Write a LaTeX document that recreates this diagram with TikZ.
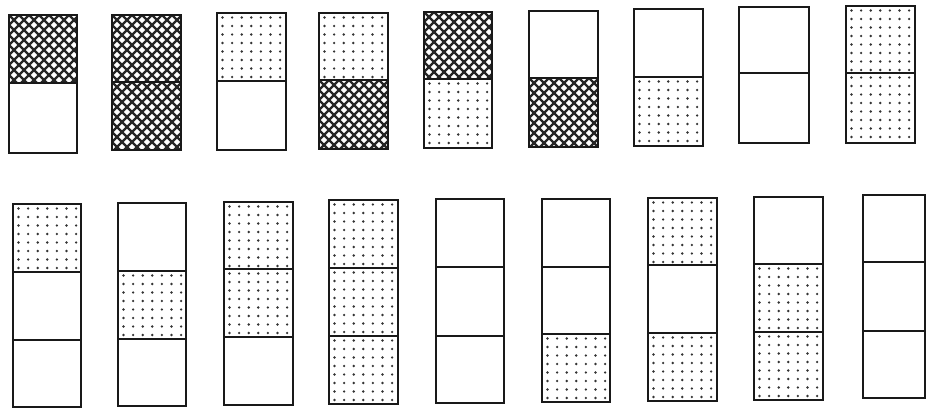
\documentclass[tikz,border=0pt]{standalone}
\tikzset{
  cellborder/.style={line width=2pt, draw=black!90},
  hatchline/.style={line width=1.7pt, draw=black!85},
  dotfill/.style={fill=black!80}
}
\newcommand\wcell[4]{\draw[cellborder] (#1,#2) rectangle (#3,#4);}
\newcommand\hcell[4]{%
  \begin{scope}
    \clip (#1,#2) rectangle (#3,#4);
    \foreach \k in {0,10,...,180}{
      \draw[hatchline] (#1+\k-90,#2) -- ++(90,90);
      \draw[hatchline] (#1+\k,#2) -- ++(-90,90);
    }
  \end{scope}
  \wcell{#1}{#2}{#3}{#4}}
\newcommand\dcell[4]{%
  \foreach \i in {0,...,6}{
    \foreach \j in {0,...,7}{
      \fill[dotfill] ({#1+5.5+\i*9.6},{#2+4.5+\j*8.5}) circle (1pt);
    }
  }
  \wcell{#1}{#2}{#3}{#4}}
\begin{document}
\begin{tikzpicture}[x=0.75pt,y=-0.75pt]
\useasboundingbox[fill=white] (0,0) rectangle (928,409);
% top row
\hcell{9}{15}{77}{83}   \wcell{9}{83}{77}{153}
\hcell{112}{15}{181}{82} \hcell{112}{82}{181}{150}
\dcell{217}{13}{286}{81} \wcell{217}{81}{286}{150}
\dcell{319}{13}{388}{80} \hcell{319}{80}{388}{149}
\hcell{424}{12}{492}{79} \dcell{424}{79}{492}{148}
\wcell{529}{11}{598}{78} \hcell{529}{78}{598}{147}
\wcell{634}{9}{703}{77}  \dcell{634}{77}{703}{146}
\wcell{739}{7}{809}{73}  \wcell{739}{73}{809}{143}
\dcell{846}{6}{915}{73}  \dcell{846}{73}{915}{143}
% bottom row
\dcell{13}{204}{81}{272}  \wcell{13}{272}{81}{340}  \wcell{13}{340}{81}{407}
\wcell{118}{203}{186}{271} \dcell{118}{271}{186}{339} \wcell{118}{339}{186}{406}
\dcell{224}{202}{293}{269} \dcell{224}{269}{293}{337} \wcell{224}{337}{293}{405}
\dcell{329}{200}{398}{268} \dcell{329}{268}{398}{336} \dcell{329}{336}{398}{404}
\wcell{436}{199}{504}{267} \wcell{436}{267}{504}{336} \wcell{436}{336}{504}{403}
\wcell{542}{199}{610}{267} \wcell{542}{267}{610}{334} \dcell{542}{334}{610}{402}
\dcell{648}{198}{717}{265} \wcell{648}{265}{717}{333} \dcell{648}{333}{717}{401}
\wcell{754}{197}{823}{264} \dcell{754}{264}{823}{332} \dcell{754}{332}{823}{400}
\wcell{863}{195}{925}{262} \wcell{863}{262}{925}{331} \wcell{863}{331}{925}{398}
\end{tikzpicture}
\end{document}
